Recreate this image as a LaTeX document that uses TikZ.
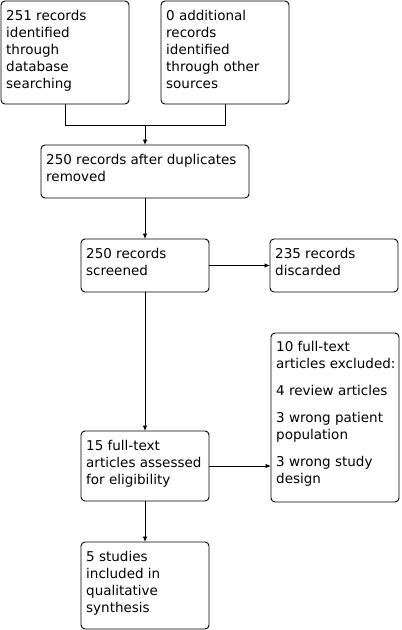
\documentclass[tikz,border=0pt]{standalone}
\usepackage{fontspec}
\setmainfont{DejaVu Sans}
\usetikzlibrary{arrows.meta,calc}
\tikzset{
  box/.style={draw=black, line width=0.9pt, rounded corners=4pt, anchor=north west, inner sep=0pt, outer sep=0pt},
  txt/.style={anchor=north west, inner sep=0pt, align=left, font={\fontsize{13.5}{17}\selectfont}},
  conn/.style={draw=black, line width=0.9pt},
  arr/.style={conn, -{Latex[length=5.5pt,width=4.5pt]}}
}
\begin{document}
\begin{tikzpicture}[x=1pt,y=-1pt]
\useasboundingbox (0,0) rectangle (402,630);
% boxes
\node[box, minimum width=128pt, minimum height=103pt] (b1) at (1,1) {};
\node[box, minimum width=128pt, minimum height=103pt] (b2) at (161,1) {};
\node[box, minimum width=208pt, minimum height=53pt] (b3) at (41,145) {};
\node[box, minimum width=128pt, minimum height=53pt] (b4) at (81,239) {};
\node[box, minimum width=128pt, minimum height=53pt] (b5) at (270,239) {};
\node[box, minimum width=128pt, minimum height=169pt] (b6) at (271,333) {};
\node[box, minimum width=128pt, minimum height=70pt] (b7) at (81,431) {};
\node[box, minimum width=128pt, minimum height=87pt] (b8) at (81,542) {};
% texts
\node[txt] (t1) at ($(b1.north west)+(5,9)$) {251 records\\identified\\through\\database\\searching};
\node[txt] (t2) at ($(b2.north west)+(5,9)$) {0 additional\\records\\identified\\through other\\sources};
\node[txt] (t3) at ($(b3.north west)+(5,9.5)$) {250 records after duplicates\\removed};
\node[txt] (t4) at ($(b4.north west)+(5,9)$) {250 records\\screened};
\node[txt] (t5) at ($(b5.north west)+(5,9)$) {235 records\\discarded};
\node[txt] (t6) at ($(b6.north west)+(5,8)$) {10 full-text\\articles excluded:\\[10pt]4 review articles\\[10pt]3 wrong patient\\population\\[10pt]3 wrong study\\design};
\node[txt] (t7) at ($(b7.north west)+(5,9)$) {15 full-text\\articles assessed\\for eligibility};
\node[txt] (t8) at ($(b8.north west)+(5,9)$) {5 studies\\included in\\qualitative\\synthesis};
% connectors
\coordinate (j) at (145,125);
\draw[conn] (b1.south) -- (b1.south |- j) -- (b2.south |- j) -- (b2.south);
\draw[arr] (j) -- (j |- b3.north);
\draw[arr] (b3.south) -- (b4.north);
\draw[arr] (b4.east) -- (b5.west);
\draw[arr] (b4.south) -- (b7.north);
\draw[arr] (b7.east) -- (b7.east -| b6.west);
\draw[arr] (b7.south) -- (b8.north);
\end{tikzpicture}
\end{document}
